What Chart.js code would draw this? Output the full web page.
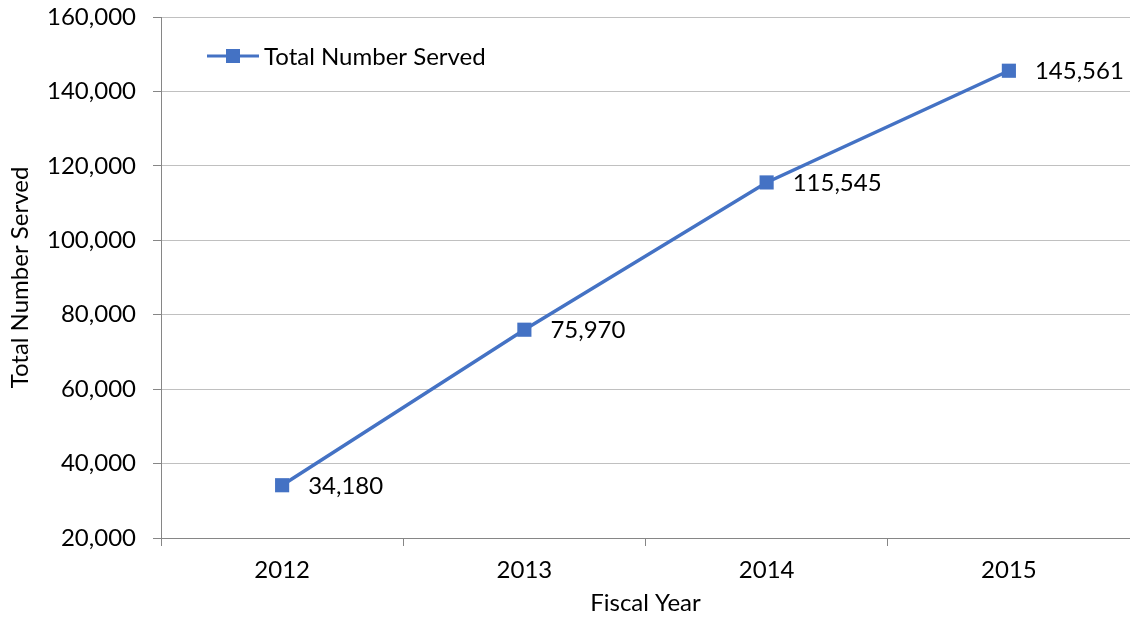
<!DOCTYPE html>
<html>
<head>
<meta charset="utf-8">
<script src="https://cdn.jsdelivr.net/npm/chart.js@4"></script>
<style>
html,body{margin:0;padding:0;background:#fff;}
#wrap{width:1130px;height:618px;position:relative;}
</style>
</head>
<body>
<div id="wrap"><canvas id="c" width="1130" height="618"></canvas></div>
<script>
const categories = ['2012', '2013', '2014', '2015'];
const totalServed = [34180, 75970, 115545, 145561];
const seriesName = 'Total Number Served';
const yAxisTitle = 'Total Number Served';
const xAxisTitle = 'Fiscal Year';

const FONT = 'Lato, "Open Sans", sans-serif';
const FS = 24;
const BLUE = '#4472C4';

const fmt = v => v.toLocaleString('en-US');

const labelPlugin = {
  id: 'pointLabels',
  afterDatasetsDraw(chart) {
    const ctx = chart.ctx;
    const meta = chart.getDatasetMeta(0);
    ctx.save();
    ctx.font = FS + 'px ' + FONT;
    ctx.fillStyle = '#000';
    ctx.textAlign = 'left';
    ctx.textBaseline = 'middle';
    meta.data.forEach((pt, i) => {
      ctx.fillText(fmt(chart.data.datasets[0].data[i]), pt.x + 26, pt.y + 1);
    });
    ctx.restore();
  }
};

const legendPlugin = {
  id: 'inLegend',
  afterDraw(chart) {
    const ctx = chart.ctx;
    const a = chart.chartArea;
    const x0 = a.left + 46, y = a.top + 39;
    ctx.save();
    ctx.strokeStyle = BLUE;
    ctx.lineWidth = 3;
    ctx.beginPath();
    ctx.moveTo(x0, y);
    ctx.lineTo(x0 + 52, y);
    ctx.stroke();
    ctx.fillStyle = BLUE;
    ctx.fillRect(x0 + 26 - 7, y - 7, 14, 14);
    ctx.font = FS + 'px ' + FONT;
    ctx.fillStyle = '#000';
    ctx.textAlign = 'left';
    ctx.textBaseline = 'middle';
    ctx.fillText(seriesName, x0 + 57, y + 1);
    ctx.restore();
  }
};

new Chart(document.getElementById('c'), {
  type: 'line',
  data: {
    labels: categories,
    datasets: [{
      label: seriesName,
      data: totalServed,
      borderColor: BLUE,
      backgroundColor: BLUE,
      borderWidth: 3.5,
      pointStyle: 'rect',
      pointRadius: 10,
      pointHoverRadius: 10,
      pointBorderWidth: 0,
      tension: 0
    }]
  },
  options: {
    responsive: false,
    animation: false,
    layout: { autoPadding: false, padding: { top: 17, right: 0, left: 0, bottom: 0 } },
    plugins: { legend: { display: false }, tooltip: { enabled: false } },
    scales: {
      x: {
        offset: true,
        grid: { offset: true, drawOnChartArea: false, drawTicks: true, tickLength: 8, color: '#868686', lineWidth: 1 },
        border: { display: true, color: '#868686', width: 1 },
        ticks: { font: { family: FONT, size: FS }, color: '#000', padding: 10 },
        title: { display: true, text: xAxisTitle, font: { family: FONT, size: FS }, color: '#000', padding: { top: 0, bottom: 0 } },
        afterFit(s) { s.height = 80; s.paddingLeft = 0; s.paddingRight = 0; }
      },
      y: {
        min: 20000,
        max: 160000,
        ticks: { stepSize: 20000, font: { family: FONT, size: FS }, color: '#000', padding: 17, callback: v => fmt(v) },
        grid: { color: '#c0c0c0', lineWidth: 1, tickLength: 8, tickColor: '#868686' },
        border: { display: true, color: '#868686', width: 1 },
        title: { display: true, text: yAxisTitle, font: { family: FONT, size: FS }, color: '#000', padding: { top: 6, bottom: 0 } },
        afterFit(s) { s.width = 161; s.paddingTop = 0; s.paddingBottom = 0; }
      }
    }
  },
  plugins: [labelPlugin, legendPlugin]
});
</script>
</body>
</html>
